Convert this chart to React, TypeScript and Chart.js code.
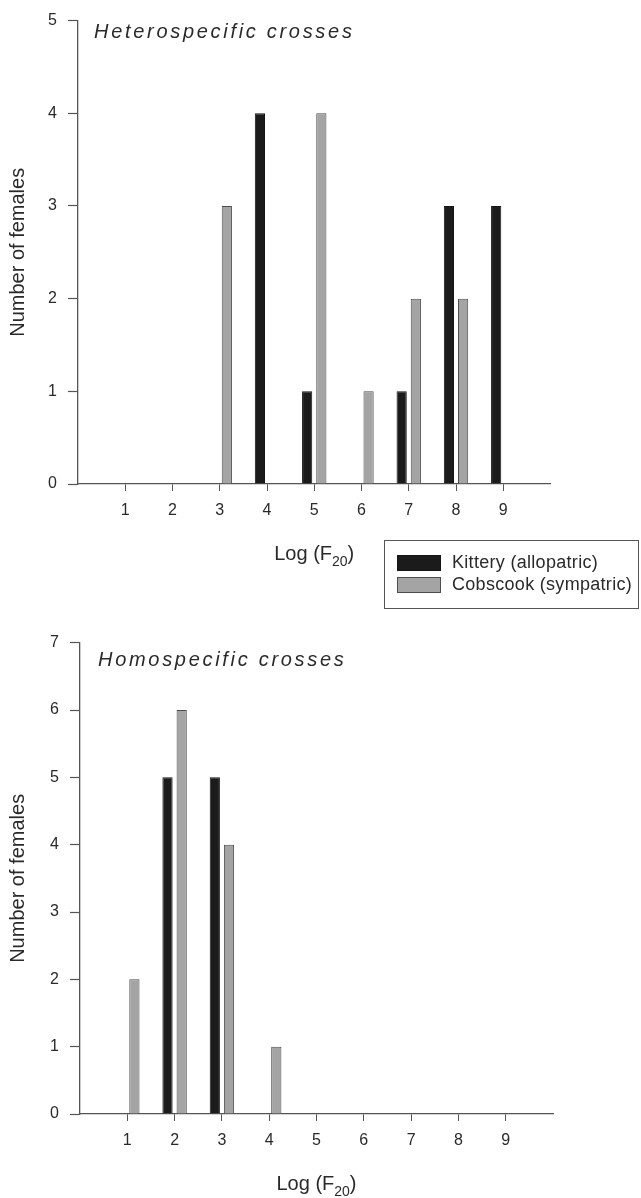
import React, { useEffect, useRef } from "react";
import { Chart, registerables } from "chart.js";

Chart.register(...registerables);

// ---------- data ----------
const BINS = [1, 2, 3, 4, 5, 6, 7, 8, 9];
const SERIES_NAMES = ["Kittery (allopatric)", "Cobscook (sympatric)"];
const HETERO_KITTERY = [0, 0, 0, 4, 1, 0, 1, 3, 3];
const HETERO_COBSCOOK = [0, 0, 3, 0, 4, 1, 2, 2, 0];
const HOMO_KITTERY = [0, 5, 5, 0, 0, 0, 0, 0, 0];
const HOMO_COBSCOOK = [2, 6, 4, 1, 0, 0, 0, 0, 0];
const HETERO_Y_TICKS = [0, 1, 2, 3, 4, 5];
const HOMO_Y_TICKS = [0, 1, 2, 3, 4, 5, 6, 7];
const X_RANGE = [0, 10];
const HETERO_TITLE = "Heterospecific crosses";
const HOMO_TITLE = "Homospecific crosses";
const Y_TITLE = "Number of females";
const X_TITLE_MAIN = "Log (F";
const X_TITLE_SUB = "20";
const X_TITLE_END = ")";

// ---------- style ----------
const FONT = '"Liberation Sans", Arial, Helvetica, sans-serif';
const AXIS = "#555555";
const TEXT = "#2a2a2a";
const BLACK_FILL = "#1b1b1b";
const BLACK_BORDER = "#151515";
const GRAY_FILL = "#a4a4a4";
const GRAY_BORDER = "#4d4d4d";

type PanelCfg = {
  kittery: number[];
  cobscook: number[];
  yTicks: number[];
  title: string;
  titleDx: number;
  titleDy: number;
  width: number;
  height: number;
  yWidth: number;
  pad: { top: number; right: number; bottom: number; left: number };
  legend: boolean;
};

const toPoints = (vals: number[]) =>
  BINS.map((b, i) => ({ x: b, y: vals[i] === 0 ? null : vals[i] }));

const decorPlugin = (cfg: PanelCfg) => ({
  id: "decor",
  afterDraw(chart: any) {
    const { ctx, chartArea } = chart;
    ctx.save();
    // panel title (italic)
    ctx.fillStyle = TEXT;
    ctx.font = `italic 20px ${FONT}`;
    (ctx as any).letterSpacing = "2.7px";
    ctx.textAlign = "left";
    ctx.textBaseline = "alphabetic";
    ctx.fillText(cfg.title, chartArea.left + cfg.titleDx, chartArea.top + cfg.titleDy);
    (ctx as any).letterSpacing = "0px";

    // x axis title with subscript
    const mainFont = `20px ${FONT}`;
    const subFont = `14px ${FONT}`;
    ctx.font = mainFont;
    const w1 = ctx.measureText(X_TITLE_MAIN).width;
    const w3 = ctx.measureText(X_TITLE_END).width;
    ctx.font = subFont;
    const w2 = ctx.measureText(X_TITLE_SUB).width;
    const total = w1 + w2 + w3;
    const cx = (chartArea.left + chartArea.right) / 2;
    const base = chartArea.bottom + 76;
    let x = cx - total / 2;
    ctx.font = mainFont;
    ctx.fillText(X_TITLE_MAIN, x, base);
    x += w1;
    ctx.font = subFont;
    ctx.fillText(X_TITLE_SUB, x, base + 6);
    x += w2;
    ctx.font = mainFont;
    ctx.fillText(X_TITLE_END, x, base);

    // legend
    if (cfg.legend) {
      const ds = chart.data.datasets;
      const lx = 384.5;
      const ly = 540.5;
      ctx.strokeStyle = AXIS;
      ctx.lineWidth = 1;
      ctx.strokeRect(lx, ly, 254, 68);
      ctx.font = `18px ${FONT}`;
      (ctx as any).letterSpacing = "0.3px";
      ctx.textBaseline = "middle";
      ds.forEach((d: any, i: number) => {
        const sy = 555 + i * 22;
        ctx.fillStyle = d.backgroundColor;
        ctx.fillRect(397, sy, 44, 16);
        ctx.strokeStyle = d.borderColor;
        ctx.strokeRect(397.5, sy + 0.5, 43, 15);
        ctx.fillStyle = TEXT;
        ctx.fillText(d.label, 452, sy + 8.5);
      });
    }
    ctx.restore();
  },
});

function Panel({ cfg }: { cfg: PanelCfg }) {
  const ref = useRef<HTMLCanvasElement | null>(null);
  useEffect(() => {
    if (!ref.current) return;
    const chart = new Chart(ref.current, {
      type: "bar",
      data: {
        datasets: [
          {
            label: SERIES_NAMES[0],
            data: toPoints(cfg.kittery) as any,
            backgroundColor: BLACK_FILL,
            borderColor: BLACK_BORDER,
            borderWidth: 1,
          },
          {
            label: SERIES_NAMES[1],
            data: toPoints(cfg.cobscook) as any,
            backgroundColor: GRAY_FILL,
            borderColor: GRAY_BORDER,
            borderWidth: 1,
          },
        ],
      },
      options: {
        animation: false,
        responsive: false,
        devicePixelRatio: 1,
        categoryPercentage: 0.6,
        barPercentage: 0.72,
        layout: { padding: cfg.pad },
        plugins: {
          legend: { display: false },
          tooltip: { enabled: false },
          title: { display: false },
        },
        scales: {
          x: {
            type: "linear",
            min: X_RANGE[0],
            max: X_RANGE[1],
            offset: false,
            afterBuildTicks: (scale: any) => {
              scale.ticks = BINS.map((v) => ({ value: v }));
            },
            afterFit: (scale: any) => {
              scale.height = 40;
            },
            grid: {
              offset: false,
              drawOnChartArea: false,
              drawTicks: true,
              tickLength: 7,
              tickColor: AXIS,
              tickWidth: 1,
            },
            border: { display: true, color: AXIS, width: 1.3 },
            ticks: {
              padding: 10,
              color: TEXT,
              font: { family: FONT, size: 16 },
              maxRotation: 0,
              autoSkip: false,
            },
          },
          y: {
            type: "linear",
            min: cfg.yTicks[0],
            max: cfg.yTicks[cfg.yTicks.length - 1],
            afterBuildTicks: (scale: any) => {
              scale.ticks = cfg.yTicks.map((v) => ({ value: v }));
            },
            afterFit: (scale: any) => {
              scale.width = cfg.yWidth;
            },
            grid: {
              drawOnChartArea: false,
              drawTicks: true,
              tickLength: 10,
              tickColor: AXIS,
              tickWidth: 1.2,
            },
            border: { display: true, color: AXIS, width: 1.3 },
            ticks: {
              padding: 11,
              color: TEXT,
              font: { family: FONT, size: 16 },
            },
            title: {
              display: true,
              text: Y_TITLE,
              color: TEXT,
              font: { family: FONT, size: 20 },
              padding: 6,
            },
          },
        },
      } as any,
      plugins: [decorPlugin(cfg)],
    });
    return () => chart.destroy();
  }, [cfg]);
  return (
    <canvas
      ref={ref}
      width={cfg.width}
      height={cfg.height}
      style={{ width: cfg.width, height: cfg.height, display: "block" }}
    />
  );
}

const TOP: PanelCfg = {
  kittery: HETERO_KITTERY,
  cobscook: HETERO_COBSCOOK,
  yTicks: HETERO_Y_TICKS,
  title: HETERO_TITLE,
  titleDx: 16,
  titleDy: 17.5,
  width: 641,
  height: 620,
  yWidth: 78,
  pad: { top: 13.5, right: 90.5, bottom: 96, left: 0 },
  legend: true,
};

const BOTTOM: PanelCfg = {
  kittery: HOMO_KITTERY,
  cobscook: HOMO_COBSCOOK,
  yTicks: HOMO_Y_TICKS,
  title: HOMO_TITLE,
  titleDx: 18,
  titleDy: 23,
  width: 641,
  height: 598,
  yWidth: 80,
  pad: { top: 42.7, right: 88, bottom: 44, left: 0 },
  legend: false,
};

export default function App() {
  return (
    <div
      style={{
        position: "absolute",
        left: 0,
        top: 0,
        width: 641,
        height: 1198,
        background: "#ffffff",
        overflow: "hidden",
      }}
    >
      <div style={{ position: "absolute", left: 0, top: 0 }}>
        <Panel cfg={TOP} />
      </div>
      <div style={{ position: "absolute", left: 0, top: 600 }}>
        <Panel cfg={BOTTOM} />
      </div>
    </div>
  );
}
